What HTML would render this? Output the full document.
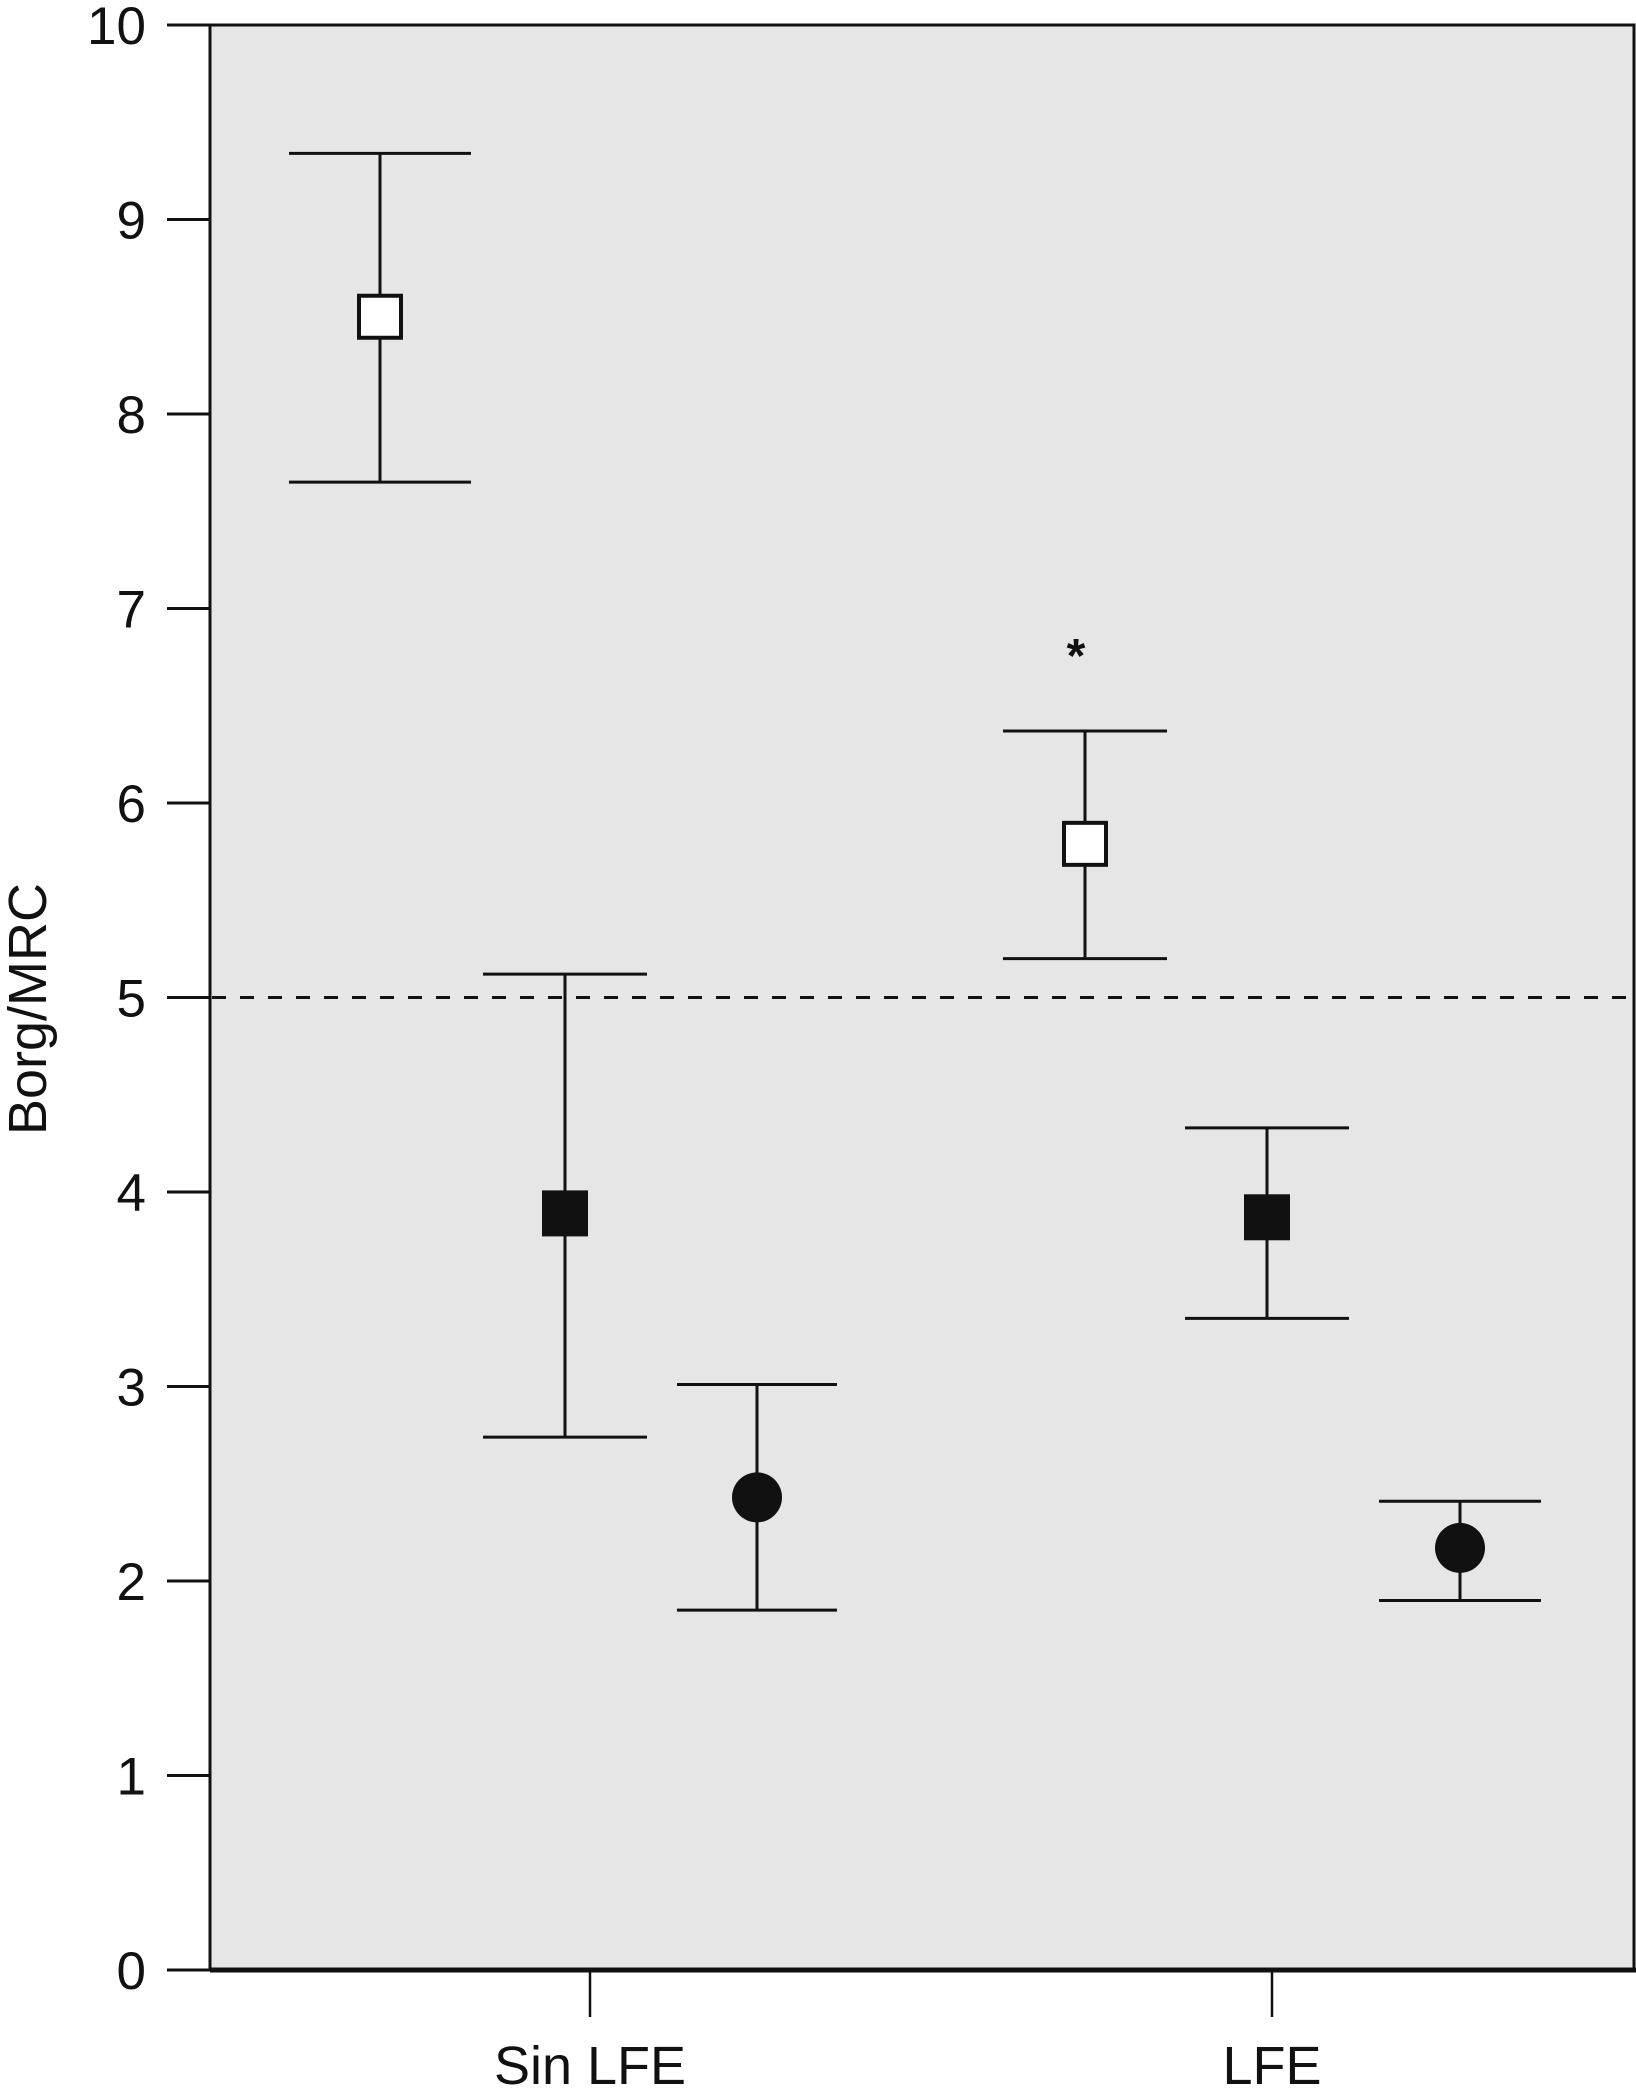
<!DOCTYPE html>
<html><head><meta charset="utf-8"><style>
html,body{margin:0;padding:0;background:#fff;}
svg{display:block;font-family:"Liberation Sans",Arial,sans-serif;}
</style></head><body>
<svg id="chart" width="1636" height="2096" viewBox="0 0 1636 2096" xmlns="http://www.w3.org/2000/svg">
<rect x="210" y="25" width="1424" height="1945" fill="#e6e6e6" stroke="#111" stroke-width="3"/>
<g id="axes"></g>
<g id="marks"></g>
<text transform="translate(46,1009) rotate(-90)" text-anchor="middle" font-size="54" fill="#111">Borg/MRC</text>
<text x="1076" y="672" text-anchor="middle" font-size="48" font-weight="bold" fill="#111">*</text>
</svg>
<script>
const yTicks = [0,1,2,3,4,5,6,7,8,9,10];
const categories = ["Sin LFE","LFE"];
const categoryX = [590, 1272];
const refLine = 5;
const pointX = [380, 565, 757, 1085, 1267, 1460];
const pointMarker = ["open-square","filled-square","circle","open-square","filled-square","circle"];
const means = [8.5, 3.89, 2.43, 5.79, 3.87, 2.17];
const uppers = [9.34, 5.12, 3.01, 6.37, 4.33, 2.41];
const lowers = [7.65, 2.74, 1.85, 5.2, 3.35, 1.9];
const capHalf = [91, 82, 80, 82, 82, 81];

const NS = "http://www.w3.org/2000/svg";
const y = v => 1970 - v * 194.5;
function mk(tag, attrs, parent){const e=document.createElementNS(NS,tag);for(const k in attrs)e.setAttribute(k,attrs[k]);parent.appendChild(e);return e;}
const axes = document.getElementById('axes');
const marks = document.getElementById('marks');

let e = mk('line',{x1:210,y1:1970,x2:1636,y2:1970,stroke:'#111','stroke-width':5},axes);



yTicks.forEach(t=>{
  const l = mk('line',{x1:167,y1:y(t),x2:210,y2:y(t),stroke:'#111','stroke-width':3},axes);
  
  
  const tx = mk('text',{x:146,y:y(t)+19,'text-anchor':'end','font-size':53,fill:'#111'},axes);
  tx.textContent = t;
  
  
});
categories.forEach((c,i)=>{
  const l = mk('line',{x1:categoryX[i],y1:1970,x2:categoryX[i],y2:2017,stroke:'#111','stroke-width':2.5},axes);
  
  
  const tx = mk('text',{x:categoryX[i],y:2084,'text-anchor':'middle','font-size':54,fill:'#111'},axes);
  tx.textContent = c;
  
  
});
e = mk('line',{x1:212,y1:y(refLine),x2:1634,y2:y(refLine),stroke:'#111','stroke-width':3,'stroke-dasharray':'14 14'},axes);



means.forEach((m,i)=>{
  const x = pointX[i];
  const v = mk('line',{x1:x,y1:y(uppers[i]),x2:x,y2:y(lowers[i]),stroke:'#111','stroke-width':3},marks);
  
  
  [uppers[i],lowers[i]].forEach(val=>{
    const c = mk('line',{x1:x-capHalf[i],y1:y(val),x2:x+capHalf[i],y2:y(val),stroke:'#111','stroke-width':3},marks);
    
    
  });
  let p;
  if(pointMarker[i]==='circle'){
    p = mk('circle',{cx:x,cy:y(m),r:25,fill:'#111'},marks);
  } else if(pointMarker[i]==='filled-square'){
    p = mk('rect',{x:x-23,y:y(m)-23,width:46,height:46,fill:'#111'},marks);
  } else {
    p = mk('rect',{x:x-21,y:y(m)-21,width:42,height:42,fill:'#fff',stroke:'#111','stroke-width':4},marks);
  }
  
  
});
</script>
</body></html>
